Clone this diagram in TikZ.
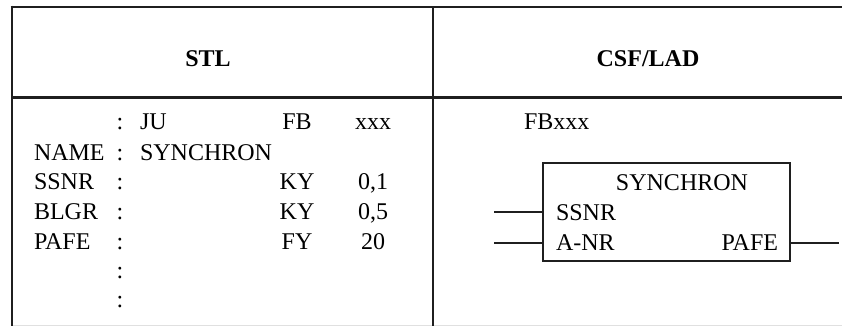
\documentclass[tikz,border=0pt]{standalone}
\usepackage{fontspec}
\setmainfont{Liberation Serif}
\begin{document}
\begin{tikzpicture}[x=1pt,y=-1pt,
  txt/.style={inner sep=0pt,outer sep=0pt,font=\fontsize{24}{30}\selectfont},
  hdr/.style={inner sep=0pt,outer sep=0pt,font=\fontsize{24}{30}\selectfont\bfseries},
  rule/.style={line width=2.6pt,draw=black!88},
  wire/.style={line width=2pt,draw=black!88},
  fbox/.style={draw=black!88,line width=2pt,minimum width=247pt,minimum height=98pt,inner sep=0pt}]
\useasboundingbox (0,0) rectangle (842,326);
% table
\draw[draw=black!12,line width=1pt] (12,325) -- (842,325);
\draw[rule] (10.7,7) -- (842,7);
\draw[rule] (12,97.7) -- (842,97.7);
\draw[rule] (12,5.7) -- (12,326);
\draw[rule] (433,7) -- (433,326);
% headers
\node[hdr,anchor=base] (stl) at (208,67) {STL};
\node[hdr,anchor=base] (csf) at (648,67) {CSF/LAD};
% STL listing
\node[txt,anchor=base] (c1) at (120,129) {:};
\node[txt,anchor=base west] (ju) at (140,129) {JU};
\node[txt,anchor=base] (fb) at (297,129) {FB};
\node[txt,anchor=base] (xxx) at (373,129) {xxx};
\node[txt,anchor=base west] (name) at (34,160) {NAME};
\node[txt,anchor=base] (c2) at (120,160) {:};
\node[txt,anchor=base west] (syn) at (140,160) {SYNCHRON};
\node[txt,anchor=base west] (ssnr) at (34,189) {SSNR};
\node[txt,anchor=base] (c3) at (120,189) {:};
\node[txt,anchor=base] (ky1) at (297,189) {KY};
\node[txt,anchor=base] (v1) at (373,189) {0,1};
\node[txt,anchor=base west] (blgr) at (34,219) {BLGR};
\node[txt,anchor=base] (c4) at (120,219) {:};
\node[txt,anchor=base] (ky2) at (297,219) {KY};
\node[txt,anchor=base] (v2) at (373,219) {0,5};
\node[txt,anchor=base west] (pafe) at (34,249) {PAFE};
\node[txt,anchor=base] (c5) at (120,249) {:};
\node[txt,anchor=base] (fy) at (297,249) {FY};
\node[txt,anchor=base] (v3) at (373,249) {20};
\node[txt,anchor=base] (c6) at (120,278) {:};
\node[txt,anchor=base] (c7) at (120,307) {:};
% CSF/LAD
\node[txt,anchor=base west] (fbxxx) at (524,129) {FBxxx};
\node[fbox] (blk) at (666.5,212) {};
\node[txt,anchor=base] (bsyn) at (682,190) {SYNCHRON};
\node[txt,anchor=base west] (bssnr) at (556,220) {SSNR};
\node[txt,anchor=base west] (banr) at (556,250) {A-NR};
\node[txt,anchor=base east] (bpafe) at (778,250) {PAFE};
\coordinate (in1) at (494,212);
\coordinate (in2) at (494,243);
\coordinate (out1) at (839,243);
\draw[wire] (in1) -- (in1 -| blk.west);
\draw[wire] (in2) -- (in2 -| blk.west);
\draw[wire] (out1 -| blk.east) -- (out1);
\end{tikzpicture}
\end{document}
